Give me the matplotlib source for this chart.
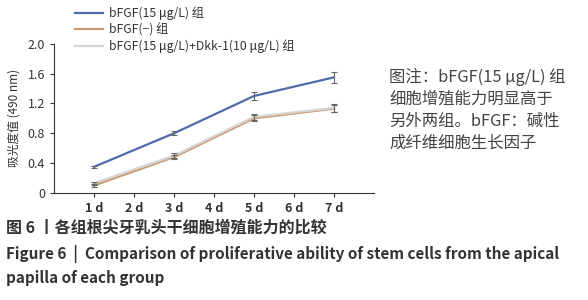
import matplotlib
matplotlib.use("Agg")
import matplotlib.pyplot as plt

plt.rcParams['font.family'] = ['Noto Sans CJK SC', 'DejaVu Sans']

# Data
days = [1, 3, 5, 7]
tick_pos = [1, 2, 3, 4, 5, 6, 7]
tick_labels = ["1 d", "2 d", "3 d", "4 d", "5 d", "6 d", "7 d"]

bfgf = [0.35, 0.80, 1.30, 1.55]
bfgf_err = [0.01, 0.03, 0.05, 0.07]
ctrl = [0.10, 0.48, 1.00, 1.13]
ctrl_err = [0.02, 0.03, 0.04, 0.05]
dkk = [0.13, 0.50, 1.02, 1.14]
dkk_err = [0.02, 0.03, 0.04, 0.05]

labels = ["bFGF(15 μg/L) 组", "bFGF(−) 组", "bFGF(15 μg/L)+Dkk-1(10 μg/L) 组"]
colors = ["#4f6bab", "#cc9a70", "#d4d4d4"]

fig = plt.figure(figsize=(5.88, 3.0), dpi=100)
ax = fig.add_axes([0.092, 0.357, 0.544, 0.497])

series = [(bfgf, bfgf_err), (ctrl, ctrl_err), (dkk, dkk_err)]
lines = []
for (vals, err), c, lab in zip(series, colors, labels):
    ln, = ax.plot(days, vals, color=c, lw=1.6, label=lab, zorder=3)
    ax.errorbar(days, vals, yerr=err, fmt="none", ecolor="#666666",
                elinewidth=0.8, capsize=2.5, capthick=0.8, zorder=4)
    lines.append(ln)

ax.set_xlim(0, 8)
ax.set_ylim(0, 2.0)
ax.set_yticks([0, 0.4, 0.8, 1.2, 1.6, 2.0])
ax.set_yticklabels(["0", "0.4", "0.8", "1.2", "1.6", "2.0"])
ax.set_xticks(tick_pos)
ax.set_xticklabels(tick_labels, fontweight="bold")
ax.tick_params(axis="both", labelsize=9, colors="#333333", length=3, width=0.8)
for s in ["top", "right"]:
    ax.spines[s].set_visible(False)
for s in ["left", "bottom"]:
    ax.spines[s].set_color("#333333")
    ax.spines[s].set_linewidth(0.8)
ax.set_ylabel("吸光度值 (490 nm)", fontsize=8.5, color="#333333", labelpad=5)

fig.legend(handles=lines, loc="upper left", bbox_to_anchor=(0.108, 1.015),
           frameon=False, fontsize=8.8, handlelength=2.3, labelspacing=0.25,
           handletextpad=0.5, labelcolor="#333333")

note = "图注：bFGF(15 μg/L) 组\n细胞增殖能力明显高于\n另外两组。bFGF：碱性\n成纤维细胞生长因子"
fig.text(0.662, 0.775, note, fontsize=11.8, color="#444444", va="top",
         linespacing=1.38)

fig.text(0.01, 0.24, "图 6 丨各组根尖牙乳头干细胞增殖能力的比较", fontsize=11.5,
         fontweight="bold", color="#333333", va="center")
fig.text(0.01, 0.152, "Figure 6  |  Comparison of proliferative ability of stem cells from the apical",
         fontsize=11, fontweight="bold", color="#333333", va="center")
fig.text(0.01, 0.072, "papilla of each group", fontsize=11, fontweight="bold",
         color="#333333", va="center")

fig.savefig("out.png", dpi=100)
